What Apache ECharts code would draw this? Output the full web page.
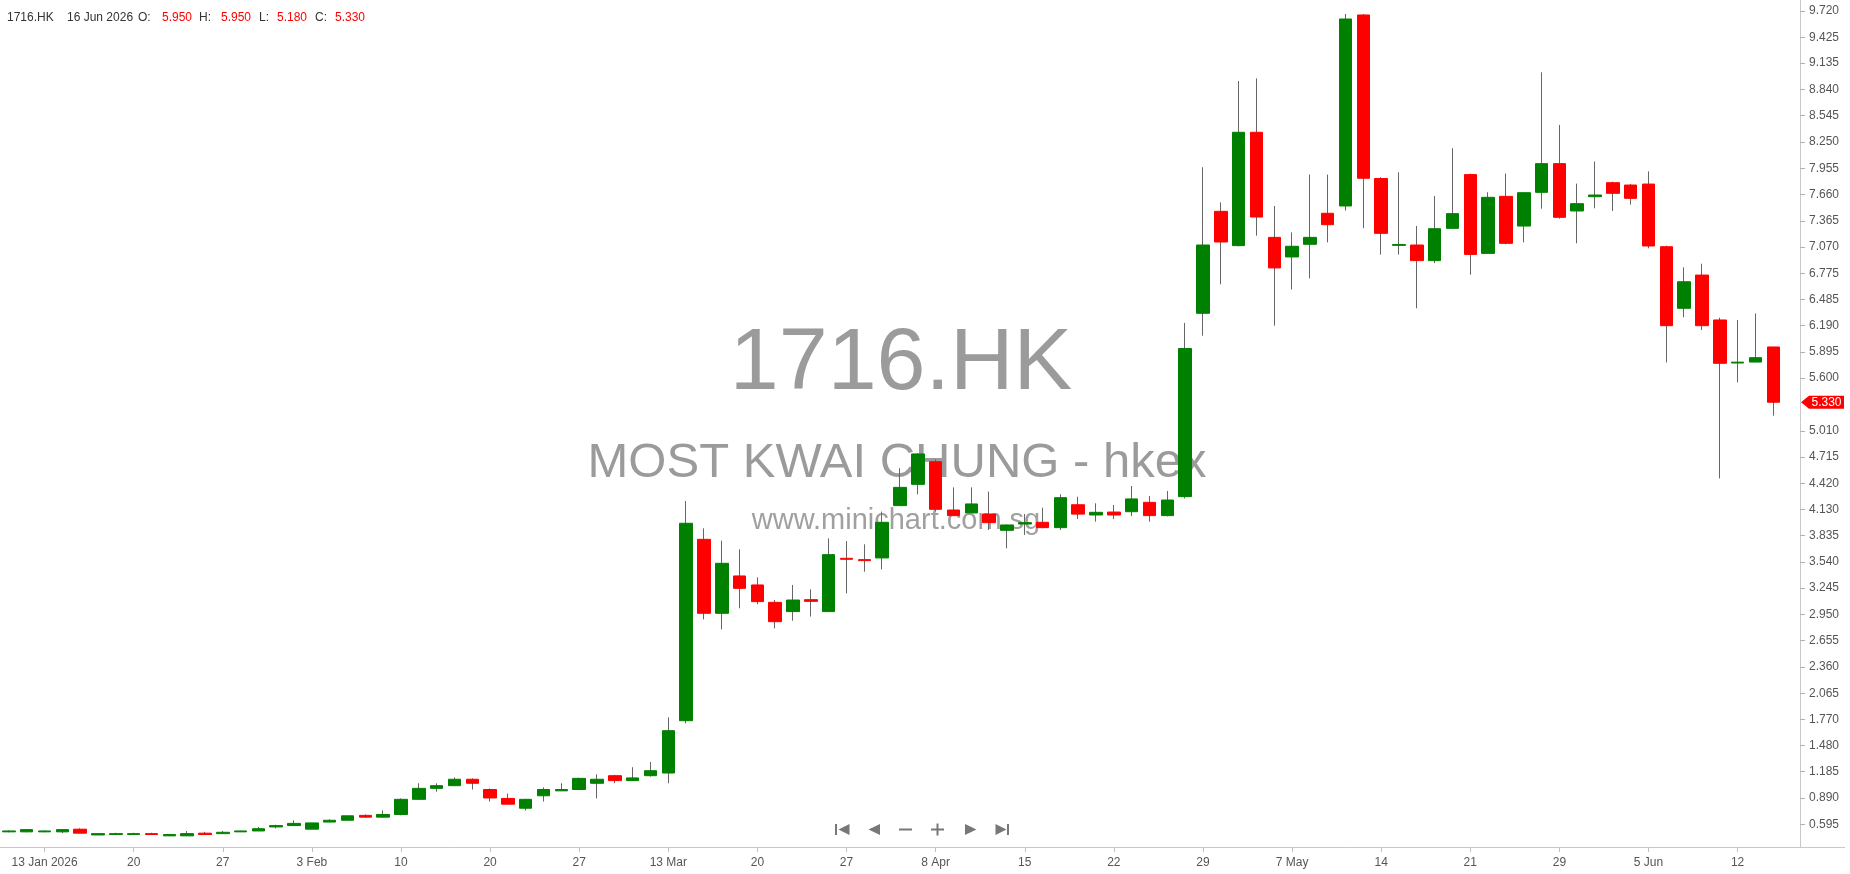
<!DOCTYPE html>
<html><head><meta charset="utf-8">
<script src="https://cdn.jsdelivr.net/npm/echarts@6/dist/echarts.min.js"></script>
<style>html,body{margin:0;padding:0;background:#fff}#c{width:1850px;height:874px}</style>
</head><body><div id="c"></div>
<script>
const dates = ['2026-01-09','2026-01-12','2026-01-13','2026-01-14','2026-01-15','2026-01-16','2026-01-19','2026-01-20','2026-01-21','2026-01-22','2026-01-23','2026-01-26','2026-01-27','2026-01-28','2026-01-29','2026-01-30','2026-02-02','2026-02-03','2026-02-04','2026-02-05','2026-02-06','2026-02-09','2026-02-10','2026-02-11','2026-02-12','2026-02-13','2026-02-16','2026-02-20','2026-02-23','2026-02-24','2026-02-25','2026-02-26','2026-02-27','2026-03-09','2026-03-10','2026-03-11','2026-03-12','2026-03-13','2026-03-16','2026-03-17','2026-03-18','2026-03-19','2026-03-20','2026-03-23','2026-03-24','2026-03-25','2026-03-26','2026-03-27','2026-03-30','2026-03-31','2026-04-01','2026-04-02','2026-04-08','2026-04-09','2026-04-10','2026-04-13','2026-04-14','2026-04-15','2026-04-16','2026-04-17','2026-04-20','2026-04-21','2026-04-22','2026-04-23','2026-04-24','2026-04-27','2026-04-28','2026-04-29','2026-04-30','2026-05-04','2026-05-05','2026-05-06','2026-05-07','2026-05-08','2026-05-11','2026-05-12','2026-05-13','2026-05-14','2026-05-15','2026-05-18','2026-05-19','2026-05-20','2026-05-21','2026-05-22','2026-05-26','2026-05-27','2026-05-28','2026-05-29','2026-06-01','2026-06-02','2026-06-03','2026-06-04','2026-06-05','2026-06-08','2026-06-09','2026-06-10','2026-06-11','2026-06-12','2026-06-15','2026-06-16'];

const open = [0.51,0.51,0.51,0.51,0.54,0.475,0.48,0.48,0.49,0.465,
0.465,0.495,0.49,0.51,0.52,0.565,0.58,0.54,0.62,0.64,
0.695,0.675,0.705,0.875,0.998,1.028,1.10,0.985,0.885,0.775,
0.915,0.97,0.985,1.055,1.14,1.085,1.14,1.17,1.757,3.792,
2.962,3.381,3.28,3.085,2.981,3.115,2.981,3.579,3.564,3.583,
4.17,4.409,4.663,4.121,4.088,4.076,3.893,3.964,3.983,3.923,
4.18,4.065,4.098,4.102,4.207,4.058,4.271,6.328,7.472,7.087,
8.359,7.18,6.96,7.102,7.45,7.532,9.675,7.84,7.09,7.094,
6.919,7.281,7.884,7.0,7.64,7.307,7.685,8.007,7.476,7.636,
7.793,7.767,7.778,7.075,6.384,6.757,6.253,5.77,5.781,5.95];

const high = [0.525,0.54,0.525,0.54,0.55,0.495,0.50,0.50,0.50,0.485,
0.52,0.51,0.52,0.52,0.565,0.59,0.64,0.61,0.65,0.69,
0.705,0.75,0.885,1.055,1.055,1.12,1.11,0.998,0.94,0.88,
1.01,1.055,1.118,1.155,1.15,1.235,1.293,1.795,4.222,3.916,
3.777,3.68,3.366,3.111,3.28,3.231,3.803,3.773,3.736,4.103,
4.589,4.76,4.689,4.375,4.375,4.327,3.96,4.076,4.147,4.297,
4.27,4.196,4.177,4.39,4.278,4.334,6.22,7.966,7.573,8.934,
8.964,7.532,7.236,7.884,7.884,9.686,9.686,7.855,7.91,7.308,
7.644,8.179,7.895,7.685,7.895,7.681,9.032,8.441,7.783,8.032,
7.805,7.778,7.92,7.087,6.843,6.884,6.279,6.253,6.327,5.95];

const low = [0.505,0.505,0.505,0.495,0.495,0.475,0.48,0.48,0.48,0.465,
0.465,0.48,0.49,0.51,0.52,0.55,0.58,0.54,0.62,0.64,
0.665,0.67,0.695,0.868,0.96,1.028,0.985,0.85,0.82,0.75,
0.85,0.97,0.985,0.885,1.055,1.085,1.13,1.055,1.727,2.894,
2.782,3.018,3.063,2.793,2.879,2.925,2.981,3.186,3.429,3.455,
4.17,4.297,4.103,4.058,4.088,3.897,3.691,3.841,3.916,3.897,
4.02,3.99,4.02,4.054,3.99,4.05,4.25,6.077,6.653,7.08,
7.199,6.189,6.595,6.72,7.124,7.48,7.282,6.986,6.986,6.384,
6.89,7.28,6.761,7.0,7.102,7.124,7.502,7.39,7.113,7.506,
7.476,7.547,7.057,5.777,6.283,6.14,4.476,5.553,5.78,5.18];

const close = [0.52,0.535,0.52,0.535,0.495,0.49,0.49,0.49,0.48,0.48,
0.49,0.48,0.505,0.52,0.545,0.58,0.605,0.61,0.64,0.69,
0.675,0.705,0.875,0.998,1.028,1.10,1.055,0.89,0.82,0.875,
0.985,0.985,1.11,1.10,1.085,1.115,1.196,1.645,3.972,2.962,
3.523,3.242,3.093,2.868,3.111,3.096,3.62,3.568,3.553,3.983,
4.375,4.75,4.129,4.058,4.189,3.979,3.953,3.979,3.923,4.259,
4.075,4.095,4.065,4.245,4.058,4.233,5.933,7.094,7.128,8.359,
7.408,6.837,7.08,7.18,7.322,9.63,7.843,7.225,7.10,6.919,
7.277,7.446,6.989,7.629,7.113,7.681,8.007,7.405,7.558,7.655,
7.674,7.618,7.083,6.189,6.682,6.189,5.767,5.78,5.83,5.33];

const xTickDates = ['2026-01-13','2026-01-20','2026-01-27','2026-02-03','2026-02-10','2026-02-20','2026-02-27','2026-03-13','2026-03-20','2026-03-27','2026-04-08','2026-04-15','2026-04-22','2026-04-29','2026-05-07','2026-05-14','2026-05-21','2026-05-29','2026-06-05','2026-06-12'];
const xTickLabels = ['13 Jan 2026','20','27','3 Feb','10','20','27','13 Mar','20','27','8 Apr','15','22','29','7 May','14','21','29','5 Jun','12'];
const yTickValues = [0.595,0.890,1.185,1.480,1.770,2.065,2.360,2.655,2.950,3.245,3.540,3.835,4.130,4.420,4.715,5.010,5.600,5.895,6.190,6.485,6.775,7.070,7.365,7.660,7.955,8.250,8.545,8.840,9.135,9.425,9.720];

const symbolName = '1716.HK';
const companyName = 'MOST KWAI CHUNG - hkex';
const siteName = 'www.minichart.com.sg';

const FONT = "'Liberation Sans', Arial, sans-serif";
const UP = '#008000', DOWN = '#ff0000', WICK = '#666666';
const Y_MIN = 0.340, Y_MAX = 9.843;

const last = dates.length - 1;
const categories = dates.concat(['']);
const tickMap = {};
xTickDates.forEach((d, i) => { tickMap[d] = xTickLabels[i]; });
const isTick = (idx, val) => Object.prototype.hasOwnProperty.call(tickMap, val);

const wickData = dates.map((d, i) => [open[i], close[i], low[i], high[i]]);
const bodyData = dates.map((d, i) => [open[i], close[i], Math.min(open[i], close[i]), Math.max(open[i], close[i])]);

const chart = echarts.init(document.getElementById('c'), null, {renderer: 'canvas'});

const option = {
  animation: false,
  backgroundColor: '#ffffff',
  grid: {left: 0, right: 50, top: 0, bottom: 27, containLabel: false},
  xAxis: {
    type: 'category',
    data: categories,
    boundaryGap: true,
    axisLine: {show: true, lineStyle: {color: '#c8c8c8', width: 1}},
    axisTick: {show: true, alignWithLabel: true, interval: isTick, length: 5, lineStyle: {color: '#c0c0c0'}},
    axisLabel: {show: true, interval: isTick, formatter: v => tickMap[v] || '', color: '#555', fontSize: 12, fontFamily: FONT, margin: 10},
    splitLine: {show: false}
  },
  yAxis: {
    type: 'value',
    position: 'right',
    min: Y_MIN,
    max: Y_MAX,
    scale: true,
    axisLine: {show: true, lineStyle: {color: '#c8c8c8', width: 1}},
    axisTick: {show: true, customValues: yTickValues, length: 5, inside: false, lineStyle: {color: '#b0b0b0'}},
    axisLabel: {show: true, customValues: yTickValues, formatter: v => v.toFixed(3), color: '#555', fontSize: 12, fontFamily: FONT, margin: 9},
    splitLine: {show: false}
  },
  series: [
    {
      name: 'wick', type: 'candlestick', data: wickData, barWidth: 1, z: 5,
      itemStyle: {color: WICK, color0: WICK, borderColor: WICK, borderColor0: WICK, borderWidth: 1},
      emphasis: {disabled: true}, silent: true
    },
    {
      name: 'body', type: 'candlestick', data: bodyData, barWidth: 13, z: 6,
      itemStyle: {color: UP, color0: DOWN, borderColor: UP, borderColor0: DOWN, borderWidth: 1},
      emphasis: {disabled: true}, silent: true
    }
  ]
};
chart.setOption(option);

function txt(x, y, text, fill, font, align, valign, z) {
  return {type: 'text', x: x, y: y, z: z || 10, silent: true,
    style: {text: text, fill: fill, font: font, textAlign: align || 'left', align: align || 'left',
      textVerticalAlign: valign || 'middle', verticalAlign: valign || 'middle'}};
}
const g = [];
// watermark
const WM = '#9b9b9b';
g.push(txt(901, 365, symbolName, WM, '88px ' + FONT, 'center', 'middle', 1));
g.push(txt(897, 463, companyName, WM, '49px ' + FONT, 'center', 'middle', 1));
g.push(txt(896, 521, siteName, '#a0a0a0', '29px ' + FONT, 'center', 'middle', 1));
// header
const hf = '12px ' + FONT;
const dark = '#333';
const lastLabel = '16 Jun 2026';
g.push(txt(7, 18, symbolName, dark, hf));
g.push(txt(67, 18, lastLabel, dark, hf));
g.push(txt(138, 18, 'O:', dark, hf));
g.push(txt(162, 18, open[last].toFixed(3), DOWN, hf));
g.push(txt(199, 18, 'H:', dark, hf));
g.push(txt(221, 18, high[last].toFixed(3), DOWN, hf));
g.push(txt(259, 18, 'L:', dark, hf));
g.push(txt(277, 18, low[last].toFixed(3), DOWN, hf));
g.push(txt(315, 18, 'C:', dark, hf));
g.push(txt(335, 18, close[last].toFixed(3), DOWN, hf));
// nav icons
const NC = '#777';
const ny = 829.5, nh = 5.5;
g.push({type: 'rect', shape: {x: 835, y: ny - nh, width: 2, height: nh * 2}, style: {fill: NC}, silent: true, z: 10});
g.push({type: 'polygon', shape: {points: [[849.5, ny - nh], [849.5, ny + nh], [838.5, ny]]}, style: {fill: NC}, silent: true, z: 10});
g.push({type: 'polygon', shape: {points: [[880, ny - nh], [880, ny + nh], [868.5, ny]]}, style: {fill: NC}, silent: true, z: 10});
g.push({type: 'rect', shape: {x: 899, y: ny - 1, width: 13, height: 2}, style: {fill: NC}, silent: true, z: 10});
g.push({type: 'rect', shape: {x: 931, y: ny - 1, width: 13, height: 2}, style: {fill: NC}, silent: true, z: 10});
g.push({type: 'rect', shape: {x: 936.5, y: ny - 6, width: 2, height: 12}, style: {fill: NC}, silent: true, z: 10});
g.push({type: 'polygon', shape: {points: [[965, ny - nh], [965, ny + nh], [976.5, ny]]}, style: {fill: NC}, silent: true, z: 10});
g.push({type: 'polygon', shape: {points: [[995.5, ny - nh], [995.5, ny + nh], [1006.5, ny]]}, style: {fill: NC}, silent: true, z: 10});
g.push({type: 'rect', shape: {x: 1007, y: ny - nh, width: 2, height: nh * 2}, style: {fill: NC}, silent: true, z: 10});
// x-axis line extension under price labels
const yBase = chart.convertToPixel({yAxisIndex: 0}, Y_MIN);
g.push({type: 'line', shape: {x1: 1800, y1: Math.round(yBase) + 0.5, x2: 1845, y2: Math.round(yBase) + 0.5}, style: {stroke: '#c8c8c8', lineWidth: 1}, silent: true, z: 10});
// last price marker
const yc = chart.convertToPixel({yAxisIndex: 0}, close[last]);
g.push({type: 'polygon', shape: {points: [[1801, yc], [1809, yc - 6.5], [1844, yc - 6.5], [1844, yc + 6.5], [1809, yc + 6.5]]}, style: {fill: DOWN}, silent: true, z: 100});
g.push(txt(1811.5, yc, close[last].toFixed(3), '#ffffff', '12px ' + FONT, 'left', 'middle', 101));

chart.setOption({graphic: g});
</script>
</body></html>
